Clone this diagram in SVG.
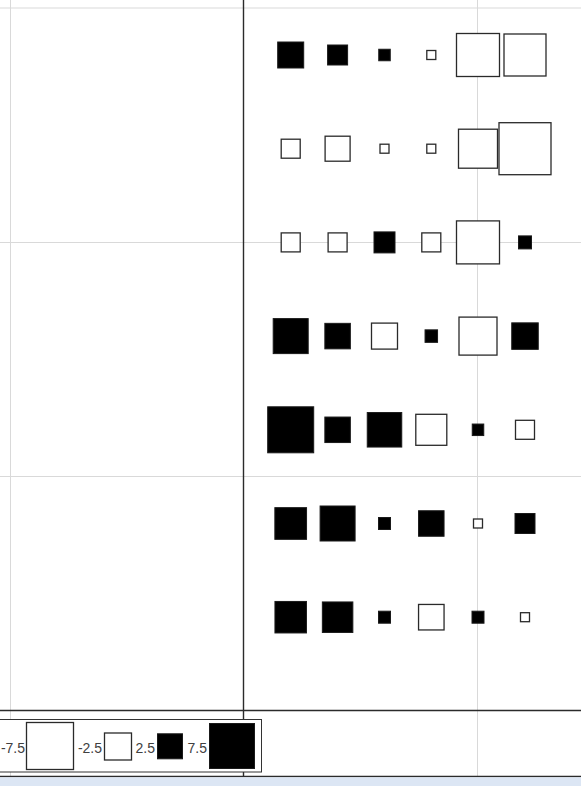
<svg xmlns="http://www.w3.org/2000/svg" width="581" height="786" viewBox="0 0 581 786">
<style>
.grid{stroke:#d9d9d9;stroke-width:1;fill:none}
.axis{stroke:#2b2b2b;stroke-width:1.4;fill:none}
.w{fill:#fff;stroke:#2a2a2a;stroke-width:1.3}
.b{fill:#000;stroke:#1a1a1a;stroke-width:1}
.lbl{font-family:"Liberation Sans",Arial,sans-serif;font-size:14px;fill:#404040;text-anchor:end}
</style>
<rect x="0" y="0" width="581" height="786" fill="#fff"/>
<g id="grid">
<line class="grid" x1="10.5" y1="0" x2="10.5" y2="776"/>
<line class="grid" x1="477.5" y1="0" x2="477.5" y2="776"/>
<line class="grid" x1="0" y1="8" x2="581" y2="8"/>
<line class="grid" x1="0" y1="242.5" x2="581" y2="242.5"/>
<line class="grid" x1="0" y1="476.5" x2="581" y2="476.5"/>
</g>
<g id="axes">
<line class="axis" x1="243.5" y1="0" x2="243.5" y2="776"/>
<line class="axis" x1="0" y1="710.5" x2="581" y2="710.5"/>
<line class="axis" x1="0" y1="776.5" x2="581" y2="776.5"/>
<rect x="0" y="777.3" width="581" height="9" fill="#dce6f4"/>
</g>
<g id="row1">
<rect class="b" x="277.7" y="42" width="26" height="26"/>
<rect class="b" x="327.6" y="45" width="20" height="20"/>
<rect class="b" x="378.75" y="49.25" width="11.5" height="11.5"/>
<rect class="w" x="426.8" y="50.5" width="9" height="9"/>
<rect class="w" x="456.5" y="33.5" width="43" height="43"/>
<rect class="w" x="504" y="34" width="42" height="42"/>
</g>
<g id="row2">
<rect class="w" x="281.2" y="139.2" width="19" height="19"/>
<rect class="w" x="325.1" y="136.2" width="25" height="25"/>
<rect class="w" x="380" y="144.2" width="9" height="9"/>
<rect class="w" x="426.8" y="144.2" width="9" height="9"/>
<rect class="w" x="458.5" y="129.2" width="39" height="39"/>
<rect class="w" x="499" y="122.7" width="52" height="52"/>
</g>
<g id="row3">
<rect class="w" x="281.2" y="232.9" width="19" height="19"/>
<rect class="w" x="328.1" y="232.9" width="19" height="19"/>
<rect class="b" x="374" y="231.9" width="21" height="21"/>
<rect class="w" x="421.8" y="232.9" width="19" height="19"/>
<rect class="w" x="456.5" y="220.9" width="43" height="43"/>
<rect class="b" x="518.5" y="235.9" width="13" height="13"/>
</g>
<g id="row4">
<rect class="b" x="273.2" y="318.6" width="35" height="35"/>
<rect class="b" x="324.85" y="323.35" width="25.5" height="25.5"/>
<rect class="w" x="371.5" y="323.1" width="26" height="26"/>
<rect class="b" x="425.05" y="329.85" width="12.5" height="12.5"/>
<rect class="w" x="459" y="317.1" width="38" height="38"/>
<rect class="b" x="511.75" y="322.85" width="26.5" height="26.5"/>
</g>
<g id="row5">
<rect class="b" x="267.7" y="406.8" width="46" height="46"/>
<rect class="b" x="324.85" y="417.05" width="25.5" height="25.5"/>
<rect class="b" x="367.25" y="412.55" width="34.5" height="34.5"/>
<rect class="w" x="415.8" y="414.3" width="31" height="31"/>
<rect class="b" x="472.25" y="424.05" width="11.5" height="11.5"/>
<rect class="w" x="515.5" y="420.3" width="19" height="19"/>
</g>
<g id="row6">
<rect class="b" x="274.85" y="507.65" width="31.7" height="31.7"/>
<rect class="b" x="320.1" y="506" width="35" height="35"/>
<rect class="b" x="378.5" y="517.5" width="12" height="12"/>
<rect class="b" x="418.55" y="510.75" width="25.5" height="25.5"/>
<rect class="w" x="473.5" y="519" width="9" height="9"/>
<rect class="b" x="515" y="513.5" width="20" height="20"/>
</g>
<g id="row7">
<rect class="b" x="274.95" y="601.45" width="31.5" height="31.5"/>
<rect class="b" x="322.35" y="601.95" width="30.5" height="30.5"/>
<rect class="b" x="378.5" y="611.2" width="12" height="12"/>
<rect class="w" x="418.55" y="604.45" width="25.5" height="25.5"/>
<rect class="b" x="472" y="611.2" width="12" height="12"/>
<rect class="w" x="520.5" y="612.7" width="9" height="9"/>
</g>
<g id="legend">
<rect x="-5" y="719.5" width="266.5" height="52.5" fill="#fff" stroke="#333" stroke-width="1"/>
<text class="lbl" x="25" y="753">-7.5</text>
<rect class="w" x="26.5" y="722.5" width="47" height="47"/>
<text class="lbl" x="102" y="753">-2.5</text>
<rect class="w" x="104.5" y="733" width="27" height="27"/>
<text class="lbl" x="155" y="753">2.5</text>
<rect class="b" x="157.5" y="733.8" width="25" height="25"/>
<text class="lbl" x="207" y="753">7.5</text>
<rect class="b" x="209.5" y="723.5" width="45" height="45"/>
</g>
</svg>
